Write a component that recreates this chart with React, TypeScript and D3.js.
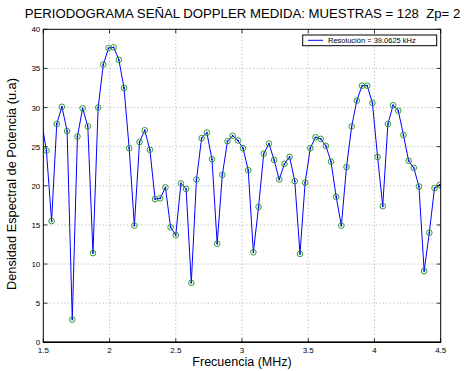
import React from "react";
import * as d3 from "d3";

// Periodogram bins: k * 39.0625 kHz (fs = 10 MHz, N = 256 with zero padding)
const binStart = 38;
const binStep = 0.0390625;
const powerValues = [
  28.5, 24.5, 15.5, 27.9, 30.1, 27.0, 2.9, 26.3, 29.9, 27.6,
  11.4, 30.0, 35.5, 37.6, 37.7, 36.1, 32.5, 24.8, 14.9, 25.6,
  27.1, 24.6, 18.3, 18.4, 19.8, 14.7, 13.7, 20.3, 19.6, 7.6,
  20.8, 26.1, 26.8, 23.4, 12.6, 21.4, 25.7, 26.4, 25.8, 24.8,
  22.0, 11.5, 17.3, 24.1, 25.4, 23.3, 20.8, 22.8, 23.7, 20.6,
  11.3, 20.4, 24.8, 26.2, 26.0, 25.1, 23.1, 18.6, 14.9, 22.4,
  27.6, 30.9, 32.8, 32.8, 30.6, 23.7, 17.4, 27.9, 30.3, 29.6,
  26.5, 23.2, 22.3, 19.9, 9.1, 14.0, 19.7, 20.1, 20.5,
];
const xTicks = [1.5, 2, 2.5, 3, 3.5, 4, 4.5];
const yTicks = [0, 5, 10, 15, 20, 25, 30, 35, 40];

const title = "PERIODOGRAMA SEÑAL DOPPLER MEDIDA: MUESTRAS = 128  Zp= 2";
const xLabel = "Frecuencia (MHz)";
const yLabel = "Densidad Espectral de Potencia (u.a)";
const legendLabel = "Resolución = 39.0625 kHz";

const W = 464;
const H = 371;
const m = { left: 43.3, right: 440.7, top: 29.3, bottom: 342.3 };
const font = "Liberation Sans, Arial, Helvetica, sans-serif";

export default function App() {
  const points = powerValues.map((v, i) => ({ f: (binStart + i) * binStep, v }));
  const x = d3.scaleLinear().domain([1.5, 4.5]).range([m.left, m.right]);
  const y = d3.scaleLinear().domain([0, 40]).range([m.bottom, m.top]);
  const line = d3
    .line<{ f: number; v: number }>()
    .x((d) => x(d.f))
    .y((d) => y(d.v));
  const visible = points.filter((d) => d.f >= 1.5 && d.f <= 4.5);
  const tick = 4;

  return (
    <svg
      width={W}
      height={H}
      style={{ position: "absolute", left: 0, top: 0, background: "#fff" }}
      fontFamily={font}
    >
      <defs>
        <clipPath id="plotClip">
          <rect x={m.left} y={m.top} width={m.right - m.left} height={m.bottom - m.top} />
        </clipPath>
      </defs>
      <rect x={0} y={0} width={W} height={H} fill="#fff" />

      {/* grid */}
      <g stroke="#9a9a9a" strokeWidth={0.8} strokeDasharray="1,2.5">
        {xTicks.slice(1, -1).map((t) => (
          <line key={"gx" + t} x1={x(t)} x2={x(t)} y1={m.top} y2={m.bottom} />
        ))}
        {yTicks.slice(1, -1).map((t) => (
          <line key={"gy" + t} x1={m.left} x2={m.right} y1={y(t)} y2={y(t)} />
        ))}
      </g>

      {/* data */}
      <g clipPath="url(#plotClip)">
        <path d={line(points) || ""} fill="none" stroke="#0000ff" strokeWidth={1} />
        {visible.map((d, i) => (
          <circle key={"dot" + i} cx={x(d.f)} cy={y(d.v)} r={0.9} fill="#0000ff" />
        ))}
        {visible.map((d, i) => (
          <circle
            key={"mk" + i}
            cx={x(d.f)}
            cy={y(d.v)}
            r={2.8}
            fill="none"
            stroke="#159015"
            strokeWidth={0.9}
          />
        ))}
      </g>

      {/* axes box and ticks */}
      <rect
        x={m.left}
        y={m.top}
        width={m.right - m.left}
        height={m.bottom - m.top}
        fill="none"
        stroke="#000"
        strokeWidth={1}
      />
      <line x1={m.left} x2={m.right} y1={m.bottom} y2={m.bottom} stroke="#000" strokeWidth={1.6} />
      <g stroke="#000" strokeWidth={0.8}>
        {xTicks.map((t) => (
          <g key={"tx" + t}>
            <line x1={x(t)} x2={x(t)} y1={m.bottom} y2={m.bottom - tick} />
            <line x1={x(t)} x2={x(t)} y1={m.top} y2={m.top + tick} />
          </g>
        ))}
        {yTicks.map((t) => (
          <g key={"ty" + t}>
            <line x1={m.left} x2={m.left + tick} y1={y(t)} y2={y(t)} />
            <line x1={m.right} x2={m.right - tick} y1={y(t)} y2={y(t)} />
          </g>
        ))}
      </g>

      <g fontSize={8} fill="#000">
        {xTicks.map((t) => (
          <text key={"lx" + t} x={x(t)} y={m.bottom + 11} textAnchor="middle">
            {String(t)}
          </text>
        ))}
        {yTicks.map((t) => (
          <text key={"ly" + t} x={m.left - 3} y={y(t) + 3} textAnchor="end">
            {String(t)}
          </text>
        ))}
      </g>

      <text
        x={242.5}
        y={18}
        textAnchor="middle"
        fontSize={13.2}
        fill="#000"
        style={{ whiteSpace: "pre" }}
        xmlSpace="preserve"
      >
        {title}
      </text>
      <text x={(m.left + m.right) / 2} y={366} textAnchor="middle" fontSize={12.5} fill="#000">
        {xLabel}
      </text>
      <text
        transform={`translate(16,184) rotate(-90)`}
        textAnchor="middle"
        fontSize={12.8}
        fill="#000"
      >
        {yLabel}
      </text>

      {/* legend */}
      <g>
        <rect x={302.7} y={35} width={134} height={10.7} fill="#fff" stroke="#000" strokeWidth={1} />
        <line x1={308} x2={323} y1={40.3} y2={40.3} stroke="#0000ff" strokeWidth={1} />
        <text x={328} y={43} fontSize={7.5} fill="#000">
          {legendLabel}
        </text>
      </g>
    </svg>
  );
}
